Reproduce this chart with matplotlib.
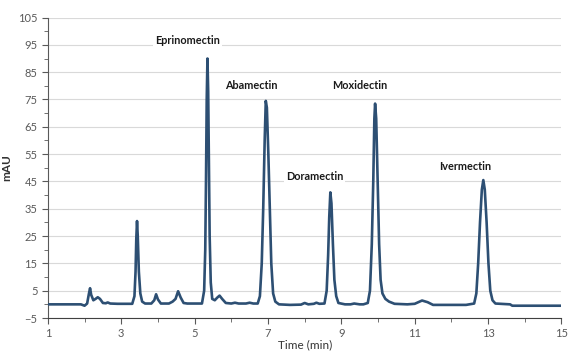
import matplotlib
matplotlib.use('Agg')
import matplotlib.pyplot as plt
from matplotlib.ticker import MultipleLocator

plt.rcParams['font.family'] = ['Lato', 'DejaVu Sans']

# chromatogram trace (time in min, signal in mAU)
TIME = [1.0, 1.9, 2.0, 2.07, 2.12, 2.15, 2.18, 2.24, 2.3, 2.36, 2.42, 2.5, 2.58, 2.63, 2.7, 2.9,
        3.30, 3.36, 3.39, 3.41, 3.43, 3.45, 3.48, 3.52, 3.57, 3.65,
        3.82, 3.9, 3.95, 4.0, 4.08, 4.3, 4.4, 4.48, 4.55, 4.62, 4.7, 4.8, 5.0,
        5.20, 5.26, 5.29, 5.31, 5.33, 5.35, 5.37, 5.39, 5.41, 5.44, 5.48, 5.55, 5.62, 5.68, 5.75,
        5.85, 6.0, 6.1, 6.2, 6.4, 6.5, 6.6,
        6.72, 6.78, 6.83, 6.87, 6.91, 6.94, 6.97, 7.01, 7.05, 7.09, 7.14, 7.20, 7.30,
        7.6, 7.9, 8.0, 8.1, 8.25, 8.32, 8.4,
        8.54, 8.60, 8.64, 8.67, 8.70, 8.73, 8.77, 8.81, 8.86, 8.92,
        9.1, 9.25, 9.35, 9.5, 9.6,
        9.72, 9.78, 9.83, 9.87, 9.90, 9.92, 9.95, 9.99, 10.03, 10.07, 10.12, 10.2, 10.3, 10.45,
        10.8, 11.0, 11.2, 11.35, 11.5, 12.0, 12.4,
        12.62, 12.68, 12.73, 12.78, 12.83, 12.87, 12.91, 12.96, 13.01, 13.06, 13.12, 13.2,
        13.6, 13.66, 15.0]
MAU = [0.0, 0.0, -0.5, 0.3, 4.0, 5.9, 3.5, 1.5, 2.0, 2.6, 2.0, 0.5, 0.4, 0.7, 0.3, 0.2,
       0.2, 3.0, 12.0, 24.0, 30.5, 25.0, 12.0, 4.0, 1.0, 0.3,
       0.3, 1.5, 3.7, 1.8, 0.3, 0.3, 1.0, 2.0, 4.8, 2.5, 0.5, 0.3, 0.3,
       0.3, 5.0, 20.0, 45.0, 75.0, 90.0, 78.0, 50.0, 25.0, 8.0, 2.0, 1.5, 2.5, 3.2, 2.0,
       0.5, 0.3, 0.6, 0.3, 0.3, 0.6, 0.3,
       0.3, 3.0, 15.0, 35.0, 60.0, 74.5, 72.0, 55.0, 35.0, 15.0, 4.0, 1.0, 0.0,
       -0.2, -0.1, 0.5, 0.0, 0.2, 0.6, 0.2,
       0.3, 5.0, 18.0, 32.0, 41.0, 37.0, 22.0, 9.0, 3.0, 0.5,
       0.0, 0.0, 0.3, 0.0, 0.0,
       0.5, 5.0, 22.0, 45.0, 68.0, 73.5, 68.0, 45.0, 22.0, 9.0, 4.0, 2.0, 1.0, 0.2,
       0.0, 0.2, 1.4, 0.8, -0.2, -0.2, -0.2,
       0.3, 4.0, 15.0, 30.0, 42.0, 45.5, 42.0, 30.0, 15.0, 5.0, 1.5, 0.3,
       0.0, -0.5, -0.5]

PEAK_NAMES = ['Eprinomectin', 'Abamectin', 'Doramectin', 'Moxidectin', 'Ivermectin']
LABEL_X = [4.81, 6.54, 8.27, 9.49, 12.38]
LABEL_Y = [96.5, 80.0, 46.8, 80.0, 50.5]

X_TICKS = [1, 3, 5, 7, 9, 11, 13, 15]
Y_TICKS = [-5, 5, 15, 25, 35, 45, 55, 65, 75, 85, 95, 105]

fig = plt.figure(figsize=(5.7, 3.51), dpi=100)
ax = fig.add_axes([0.084, 0.094, 0.901, 0.856])

ax.plot(TIME, MAU, color='#2d4f73', linewidth=1.9, zorder=3)

for name, x, y in zip(PEAK_NAMES, LABEL_X, LABEL_Y):
    ax.text(x, y, name, ha='center', va='center', fontsize=7.8, fontweight='bold',
            color='#1a1a1a', zorder=4,
            bbox=dict(facecolor='white', edgecolor='none', pad=1.5))

ax.set_xlim(1, 15)
ax.set_ylim(-5, 105)
ax.set_xticks(X_TICKS)
ax.xaxis.set_minor_locator(MultipleLocator(1))
ax.set_yticks(Y_TICKS)
ax.yaxis.set_minor_locator(MultipleLocator(5))

ax.grid(axis='y', which='major', color='#d9d9d9', linewidth=0.8)
ax.set_axisbelow(True)

for s in ['top', 'right']:
    ax.spines[s].set_visible(False)
ax.spines['left'].set_color('#595959')
ax.spines['bottom'].set_color('#404040')
ax.tick_params(which='both', direction='out', colors='#595959', labelsize=8)
ax.tick_params(which='major', length=4)
ax.tick_params(which='minor', length=3)

ax.set_xlabel('Time (min)', fontsize=8.5, color='#333333', labelpad=0)
ax.set_ylabel('mAU', fontsize=8.5, fontweight='bold', color='#333333', labelpad=4)

fig.savefig('out.png', dpi=100)
